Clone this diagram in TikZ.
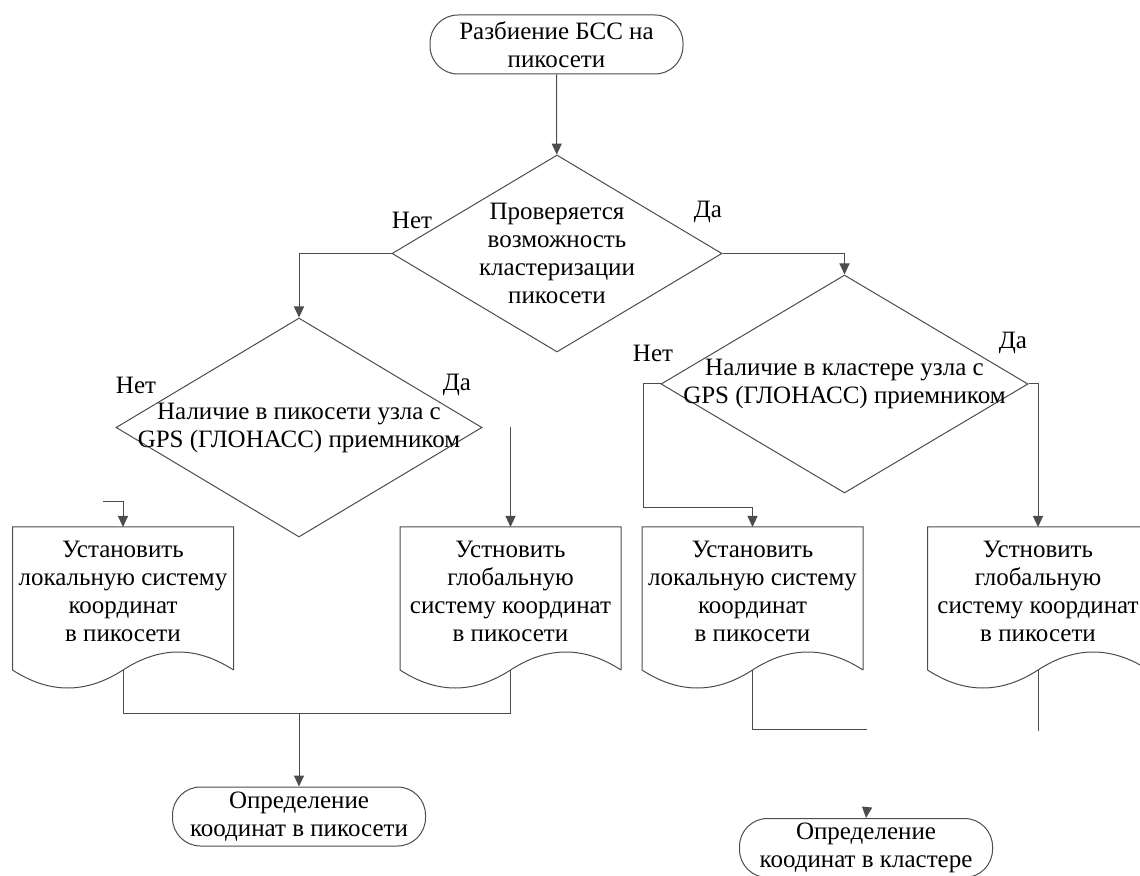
\documentclass[tikz,border=0pt]{standalone}
\usepackage{fontspec}
\setmainfont{Liberation Serif}
\usetikzlibrary{arrows.meta,shapes.geometric}
% frame of a document block round the text node: three straight sides and a wavy bottom
\newcommand{\docframe}[1]{%
  \coordinate (#1top) at ([shift={(0,-64)}]#1.center);
  \coordinate (#1bot) at ([shift={(0,79)}]#1.center);
  \draw[edge] ([shift={(110.5,79)}]#1.center) -- ([shift={(110.5,-64)}]#1.center)
    -- ([shift={(-110.5,-64)}]#1.center) -- ([shift={(-110.5,79)}]#1.center)
    .. controls +(37,24) and +(-37,24) .. (#1bot)
    .. controls +(37,-24) and +(-37,-24) .. ([shift={(110.5,79)}]#1.center);}

\begin{document}
\begin{tikzpicture}[x=0.5pt,y=-0.5pt,font=\fontsize{12.5}{14}\selectfont,
    edge/.style={draw=black!70,line width=0.5pt},
    flow/.style={edge,-{Triangle[width=5pt,length=5.5pt]}},
    term/.style={edge,rounded corners=14pt,minimum width=126.5pt,minimum height=29.5pt,align=center,inner sep=0pt},
    decision/.style={edge,diamond,inner sep=0pt},
    doc/.style={align=center,inner sep=0pt}]
    \useasboundingbox (0,0) rectangle (1140,876);
    %start
    \node[term] (start) at (556.5,44.5) {Разбиение БСС на\\пикосети};
    %first check
    \node[decision,minimum width=165pt,minimum height=98.5pt] (chk) at (557,253.5) {};
    \node[align=center] (chktxt) at (chk) {Проверяется\\возможность\\кластеризации\\пикосети};
    \node (chkno) at (412,220) {Нет};
    \node (chkyes) at (708,212) {Да};
    % gps in piconet
    \node[decision,minimum width=183pt,minimum height=109.5pt] (gpsp) at (299,427.5) {};
    \node[align=center] (gpsptxt) at (gpsp) {Наличие в пикосети узла с\\GPS (ГЛОНАСС) приемником};
    \node (gpspno) at (136,385) {Нет};
    \node (gpspyes) at (457,385) {Да};
    % gps in cluster
    \node[decision,minimum width=183.5pt,minimum height=109pt] (gpsc) at (844.5,384) {};
    \node[align=center] (gpsctxt) at (gpsc) {Наличие в кластере узла с\\GPS (ГЛОНАСС) приемником};
    \node (gpscno) at (653,353) {Нет};
    \node (gpscyes) at (1013,343) {Да};
    %documents
    \node[doc] (loc1) at (123,591) {Установить\\локальную систему\\координат\\в пикосети};
    \node[doc] (glob1) at (510.5,591) {Устновить\\глобальную\\систему координат\\в пикосети};
    \node[doc] (loc2) at (752.5,591) {Установить\\локальную систему\\координат\\в пикосети};
    \node[doc] (glob2) at (1038,591) {Устновить\\глобальную\\систему координат\\в пикосети};
    \docframe{loc1}
    \docframe{glob1}
    \docframe{loc2}
    \docframe{glob2}
    %ends
    \node[term] (def1) at (299,816.5) {Определение\\коодинат в пикосети};
    \node[term] (def2) at (866,848) {Определение\\коодинат в кластере};
    % loose points
    \coordinate (hook) at (103,502);
    \coordinate (nbend) at (643,508);
    \coordinate (join) at (299,713);
    \coordinate (loose1) at (867,729);
    \coordinate (loose2) at (1038,731);
    \coordinate (stub) at (867,808);
    %connectors
    \draw[flow] (start) -- (chk);
    \draw[flow] (chk.west) -| (gpsp.north);
    \draw[flow] (chk.east) -| (gpsc.north);
    \draw[flow] (hook) -| (loc1top);
    \draw[flow] (glob1top |- gpsp.east) -- (glob1top);
    \draw[flow] (gpsc.west) -| (nbend) -| (loc2top);
    \draw[flow] (gpsc.east) -| (glob2top);
    \draw[edge] (loc1bot) |- (join);
    \draw[edge] (glob1bot) |- (join);
    \draw[flow] (join) -- (def1.north);
    \draw[edge] (loc2bot) |- (loose1);
    \draw[edge] (glob2bot) -- (loose2);
    \draw[flow] (stub) -- (def2.north);
\end{tikzpicture}
\end{document}
